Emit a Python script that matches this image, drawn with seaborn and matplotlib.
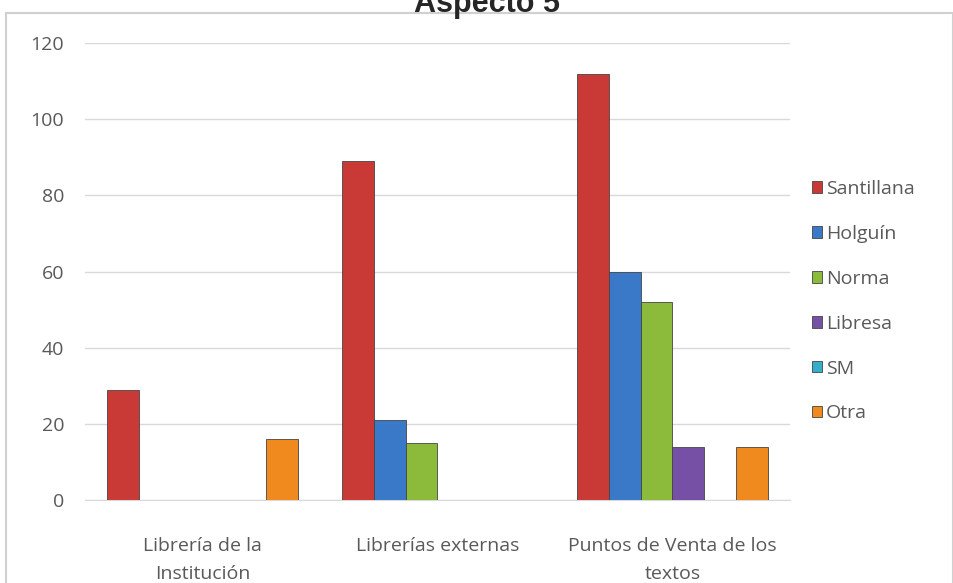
import numpy as np
import pandas as pd
import matplotlib
matplotlib.use("Agg")
from matplotlib import pyplot as plt
from matplotlib.patches import Rectangle
import seaborn as sns

categories = ["Librería de la\nInstitución", "Librerías externas", "Puntos de Venta de los\ntextos"]
editoriales = ["Santillana", "Holguín", "Norma", "Libresa", "SM", "Otra"]
santillana = [29, 89, 112]
holguin = [0, 21, 60]
norma = [0, 15, 52]
libresa = [0, 0, 14]
sm = [0, 0, 0]
otra = [16, 0, 14]

colores = ["#C93A36", "#3A78C8", "#8CBB3C", "#7650A4", "#33AECB", "#F08A1E"]

series = [santillana, holguin, norma, libresa, sm, otra]
rows = []
for name, vals in zip(editoriales, series):
    for cat, v in zip(categories, vals):
        rows.append({"cat": cat, "editorial": name, "valor": v})
df = pd.DataFrame(rows)

sns.set_style("white")
plt.rcParams['font.family'] = ['Open Sans', 'DejaVu Sans']

fig = plt.figure(figsize=(9.54, 5.83), dpi=100)
ax = fig.add_axes([0.089, 0.1424, 0.739, 0.7836])

sns.barplot(data=df, x="cat", y="valor", hue="editorial", order=categories,
            hue_order=editoriales, palette=colores, width=0.81, saturation=1,
            edgecolor="#444444", linewidth=0.6, ax=ax, zorder=3)

ax.set_xlim(-0.5, 2.5)
ax.set_ylim(0, 120)
ax.set_yticks(np.arange(0, 121, 20))
ax.yaxis.grid(True, color="#D9D9D9", linewidth=1, zorder=0)
ax.set_xlabel("")
ax.set_ylabel("")
for s in ["top", "right", "left"]:
    ax.spines[s].set_visible(False)
ax.spines["bottom"].set_color("#D9D9D9")
ax.tick_params(axis="both", length=0, labelsize=14, colors="#595959")
ax.tick_params(axis="y", pad=15)
ax.tick_params(axis="x", pad=27)
for lab in ax.get_xticklabels():
    lab.set_linespacing(1.7)

ax.legend(loc="center left", bbox_to_anchor=(1.006, 0.435), frameon=False,
          fontsize=14, labelspacing=1.38, handlelength=0.55, handleheight=0.55,
          handletextpad=0.2, labelcolor="#595959")

# titulo recortado arriba, como en la imagen original
fig.text(0.51, 1 - 12 / 583, "Aspecto 5", ha="center", va="baseline", fontsize=22,
         fontweight="bold", family=["Liberation Sans", "DejaVu Sans"], zorder=5)

fig.patches.append(Rectangle((0.006, -0.01), 0.993, 1 - 13 / 583 + 0.01, transform=fig.transFigure,
                             fill=False, edgecolor="#D0D0D0", linewidth=1.5, zorder=0))

fig.savefig("out.png", dpi=100)
